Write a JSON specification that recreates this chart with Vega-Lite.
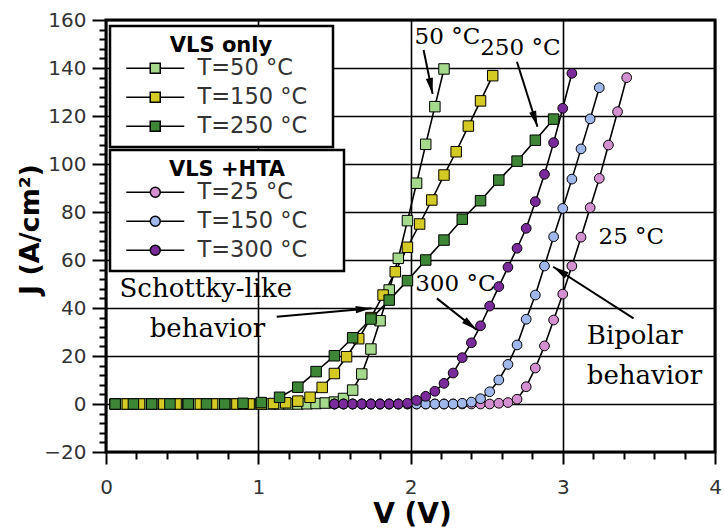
{
  "$schema": "https://vega.github.io/schema/vega-lite/v6.json",
  "width": 609,
  "height": 432,
  "autosize": "none",
  "padding": {"left": 106, "top": 20, "right": 9, "bottom": 77},
  "background": "white",
  "config": {
    "view": {"stroke": "black", "strokeWidth": 3},
    "font": "DejaVu Sans"
  },
  "datasets": {
    "vls": [
      {"s":"T=50 °C","V":0.06,"J":0},{"s":"T=50 °C","V":0.12,"J":0},{"s":"T=50 °C","V":0.18,"J":0},{"s":"T=50 °C","V":0.24,"J":0},{"s":"T=50 °C","V":0.30,"J":0},{"s":"T=50 °C","V":0.36,"J":0},{"s":"T=50 °C","V":0.42,"J":0},{"s":"T=50 °C","V":0.48,"J":0},{"s":"T=50 °C","V":0.54,"J":0},{"s":"T=50 °C","V":0.60,"J":0},{"s":"T=50 °C","V":0.66,"J":0},{"s":"T=50 °C","V":0.72,"J":0},{"s":"T=50 °C","V":0.78,"J":0},{"s":"T=50 °C","V":0.84,"J":0},{"s":"T=50 °C","V":0.90,"J":0},{"s":"T=50 °C","V":0.96,"J":0},{"s":"T=50 °C","V":1.02,"J":0},{"s":"T=50 °C","V":1.08,"J":0},{"s":"T=50 °C","V":1.14,"J":0},{"s":"T=50 °C","V":1.20,"J":0},{"s":"T=50 °C","V":1.26,"J":0},{"s":"T=50 °C","V":1.32,"J":0.1},{"s":"T=50 °C","V":1.38,"J":0.2},{"s":"T=50 °C","V":1.44,"J":0.4},{"s":"T=50 °C","V":1.50,"J":0.8},{"s":"T=50 °C","V":1.56,"J":2.3},{"s":"T=50 °C","V":1.62,"J":5.8},{"s":"T=50 °C","V":1.68,"J":12.5},{"s":"T=50 °C","V":1.74,"J":22.9},{"s":"T=50 °C","V":1.80,"J":34.7},{"s":"T=50 °C","V":1.86,"J":47.5},{"s":"T=50 °C","V":1.92,"J":60.7},{"s":"T=50 °C","V":1.98,"J":76.4},{"s":"T=50 °C","V":2.04,"J":92},{"s":"T=50 °C","V":2.10,"J":108.2},{"s":"T=50 °C","V":2.16,"J":123.9},{"s":"T=50 °C","V":2.22,"J":139.6},
      {"s":"T=150 °C","V":0.06,"J":0},{"s":"T=150 °C","V":0.14,"J":0},{"s":"T=150 °C","V":0.22,"J":0},{"s":"T=150 °C","V":0.30,"J":0},{"s":"T=150 °C","V":0.38,"J":0},{"s":"T=150 °C","V":0.46,"J":0},{"s":"T=150 °C","V":0.54,"J":0},{"s":"T=150 °C","V":0.62,"J":0},{"s":"T=150 °C","V":0.70,"J":0},{"s":"T=150 °C","V":0.78,"J":0},{"s":"T=150 °C","V":0.86,"J":0},{"s":"T=150 °C","V":0.94,"J":0},{"s":"T=150 °C","V":1.02,"J":0},{"s":"T=150 °C","V":1.10,"J":0.2},{"s":"T=150 °C","V":1.18,"J":0.5},{"s":"T=150 °C","V":1.26,"J":1.2},{"s":"T=150 °C","V":1.34,"J":2.8},{"s":"T=150 °C","V":1.42,"J":6.9},{"s":"T=150 °C","V":1.50,"J":12.7},{"s":"T=150 °C","V":1.58,"J":19.7},{"s":"T=150 °C","V":1.66,"J":27.2},{"s":"T=150 °C","V":1.74,"J":36},{"s":"T=150 °C","V":1.82,"J":45.4},{"s":"T=150 °C","V":1.90,"J":55.1},{"s":"T=150 °C","V":1.98,"J":65.3},{"s":"T=150 °C","V":2.06,"J":75},{"s":"T=150 °C","V":2.14,"J":85},{"s":"T=150 °C","V":2.22,"J":95.4},{"s":"T=150 °C","V":2.30,"J":105.1},{"s":"T=150 °C","V":2.38,"J":115.8},{"s":"T=150 °C","V":2.46,"J":126.3},{"s":"T=150 °C","V":2.54,"J":136.8},
      {"s":"T=250 °C","V":0.06,"J":0},{"s":"T=250 °C","V":0.18,"J":0},{"s":"T=250 °C","V":0.30,"J":0},{"s":"T=250 °C","V":0.42,"J":0},{"s":"T=250 °C","V":0.54,"J":0},{"s":"T=250 °C","V":0.66,"J":0},{"s":"T=250 °C","V":0.78,"J":0},{"s":"T=250 °C","V":0.90,"J":0.3},{"s":"T=250 °C","V":1.02,"J":0.6},{"s":"T=250 °C","V":1.14,"J":2.8},{"s":"T=250 °C","V":1.26,"J":7},{"s":"T=250 °C","V":1.38,"J":13.5},{"s":"T=250 °C","V":1.50,"J":20.1},{"s":"T=250 °C","V":1.62,"J":27.6},{"s":"T=250 °C","V":1.74,"J":35.4},{"s":"T=250 °C","V":1.86,"J":43.3},{"s":"T=250 °C","V":1.98,"J":51.4},{"s":"T=250 °C","V":2.10,"J":60},{"s":"T=250 °C","V":2.22,"J":68.3},{"s":"T=250 °C","V":2.34,"J":77},{"s":"T=250 °C","V":2.46,"J":84.7},{"s":"T=250 °C","V":2.58,"J":93.3},{"s":"T=250 °C","V":2.70,"J":101.2},{"s":"T=250 °C","V":2.82,"J":109.9},{"s":"T=250 °C","V":2.94,"J":118.7}
    ],
    "hta": [
      {"s":"T=25 °C","V":1.50,"J":0},{"s":"T=25 °C","V":1.56,"J":0},{"s":"T=25 °C","V":1.62,"J":0},{"s":"T=25 °C","V":1.68,"J":0},{"s":"T=25 °C","V":1.74,"J":0},{"s":"T=25 °C","V":1.80,"J":0},{"s":"T=25 °C","V":1.86,"J":0},{"s":"T=25 °C","V":1.92,"J":0},{"s":"T=25 °C","V":1.98,"J":0},{"s":"T=25 °C","V":2.04,"J":0},{"s":"T=25 °C","V":2.10,"J":0},{"s":"T=25 °C","V":2.16,"J":0},{"s":"T=25 °C","V":2.22,"J":0},{"s":"T=25 °C","V":2.28,"J":0},{"s":"T=25 °C","V":2.34,"J":0},{"s":"T=25 °C","V":2.40,"J":0},{"s":"T=25 °C","V":2.46,"J":0},{"s":"T=25 °C","V":2.52,"J":0},{"s":"T=25 °C","V":2.58,"J":0.3},{"s":"T=25 °C","V":2.64,"J":0.6},{"s":"T=25 °C","V":2.70,"J":2},{"s":"T=25 °C","V":2.76,"J":7.2},{"s":"T=25 °C","V":2.82,"J":15},{"s":"T=25 °C","V":2.88,"J":24.2},{"s":"T=25 °C","V":2.94,"J":35},{"s":"T=25 °C","V":3.00,"J":45.8},{"s":"T=25 °C","V":3.06,"J":57.5},{"s":"T=25 °C","V":3.12,"J":69.5},{"s":"T=25 °C","V":3.18,"J":81.8},{"s":"T=25 °C","V":3.24,"J":94},{"s":"T=25 °C","V":3.30,"J":107.9},{"s":"T=25 °C","V":3.36,"J":121.8},{"s":"T=25 °C","V":3.42,"J":136},
      {"s":"T=150 °C","V":1.50,"J":0},{"s":"T=150 °C","V":1.56,"J":0},{"s":"T=150 °C","V":1.62,"J":0},{"s":"T=150 °C","V":1.68,"J":0},{"s":"T=150 °C","V":1.74,"J":0},{"s":"T=150 °C","V":1.80,"J":0},{"s":"T=150 °C","V":1.86,"J":0},{"s":"T=150 °C","V":1.92,"J":0},{"s":"T=150 °C","V":1.98,"J":0},{"s":"T=150 °C","V":2.04,"J":0},{"s":"T=150 °C","V":2.10,"J":0},{"s":"T=150 °C","V":2.16,"J":0},{"s":"T=150 °C","V":2.22,"J":0},{"s":"T=150 °C","V":2.28,"J":0},{"s":"T=150 °C","V":2.34,"J":0.3},{"s":"T=150 °C","V":2.40,"J":0.8},{"s":"T=150 °C","V":2.46,"J":2.2},{"s":"T=150 °C","V":2.52,"J":5.1},{"s":"T=150 °C","V":2.58,"J":10},{"s":"T=150 °C","V":2.64,"J":16.5},{"s":"T=150 °C","V":2.70,"J":24.6},{"s":"T=150 °C","V":2.76,"J":35.3},{"s":"T=150 °C","V":2.82,"J":45.4},{"s":"T=150 °C","V":2.88,"J":57.5},{"s":"T=150 °C","V":2.94,"J":69.7},{"s":"T=150 °C","V":3.00,"J":81.5},{"s":"T=150 °C","V":3.06,"J":93.7},{"s":"T=150 °C","V":3.12,"J":106.3},{"s":"T=150 °C","V":3.18,"J":118.8},{"s":"T=150 °C","V":3.24,"J":131.8},
      {"s":"T=300 °C","V":1.50,"J":0},{"s":"T=300 °C","V":1.56,"J":0},{"s":"T=300 °C","V":1.62,"J":0},{"s":"T=300 °C","V":1.68,"J":0},{"s":"T=300 °C","V":1.74,"J":0},{"s":"T=300 °C","V":1.80,"J":0},{"s":"T=300 °C","V":1.86,"J":0},{"s":"T=300 °C","V":1.92,"J":0},{"s":"T=300 °C","V":1.98,"J":0.3},{"s":"T=300 °C","V":2.04,"J":1.5},{"s":"T=300 °C","V":2.10,"J":3.2},{"s":"T=300 °C","V":2.16,"J":5.3},{"s":"T=300 °C","V":2.22,"J":8.6},{"s":"T=300 °C","V":2.28,"J":12.9},{"s":"T=300 °C","V":2.34,"J":19.3},{"s":"T=300 °C","V":2.40,"J":25.5},{"s":"T=300 °C","V":2.46,"J":32.6},{"s":"T=300 °C","V":2.52,"J":40.8},{"s":"T=300 °C","V":2.58,"J":48.9},{"s":"T=300 °C","V":2.64,"J":57},{"s":"T=300 °C","V":2.70,"J":64.9},{"s":"T=300 °C","V":2.76,"J":73.2},{"s":"T=300 °C","V":2.82,"J":84.3},{"s":"T=300 °C","V":2.88,"J":95.7},{"s":"T=300 °C","V":2.94,"J":108.9},{"s":"T=300 °C","V":3.00,"J":123.2},{"s":"T=300 °C","V":3.06,"J":137.8}
    ],
    "arrows": [
      {"V1":2.086,"J1":147.5,"V2":2.145,"J2":129.2},
      {"V1":2.699,"J1":142.6,"V2":2.834,"J2":115.5},
      {"V1":2.173,"J1":44,"V2":2.436,"J2":30.8},
      {"V1":1.121,"J1":36.4,"V2":1.745,"J2":39.9},
      {"V1":3.465,"J1":35.7,"V2":2.937,"J2":57.2}
    ],
    "notes": [
      {"t":"50 °C","V":2.027,"J":152.9,"a":"left","k":"temp"},
      {"t":"250 °C","V":2.458,"J":148.3,"a":"left","k":"temp"},
      {"t":"300 °C","V":2.031,"J":50,"a":"left","k":"temp"},
      {"t":"25 °C","V":3.235,"J":69.6,"a":"left","k":"temp"},
      {"t":"Schottky-like","V":0.656,"J":47.9,"a":"center","k":"big"},
      {"t":"behavior","V":0.666,"J":31.2,"a":"center","k":"big"},
      {"t":"Bipolar","V":3.158,"J":28.3,"a":"left","k":"big"},
      {"t":"behavior","V":3.158,"J":11.7,"a":"left","k":"big"}
    ]
  },
  "layer": [
    {
      "data": {"name": "vls"},
      "mark": {"type": "line", "color": "black", "strokeWidth": 1.6},
      "encoding": {
        "x": {
          "field": "V", "type": "quantitative",
          "scale": {"domain": [0, 4], "nice": false, "zero": false},
          "axis": {
            "title": "V (V)",
            "values": [0,0.2,0.4,0.6,0.8,1,1.2,1.4,1.6,1.8,2,2.2,2.4,2.6,2.8,3,3.2,3.4,3.6,3.8,4],
            "tickCount": 200,
            "tickMinStep": 0.1,
            "labelExpr": "abs(datum.value-round(datum.value))<0.01 ? format(round(datum.value), 'd') : ''",
            "tickSize": {"condition": {"test": "abs(datum.value-round(datum.value))<0.01", "value": 12}, "value": 7},
            "gridOpacity": {"condition": {"test": "abs(datum.value-round(datum.value))<0.01", "value": 1}, "value": 0},
            "grid": true, "gridColor": "black", "gridWidth": 1.6,
            "domain": false, "tickColor": "black", "tickWidth": 2,
            "labelFont": "DejaVu Sans", "labelFontSize": 20, "labelColor": "#333", "labelPadding": 13,
            "labelOverlap": false, "labelFlush": false,
            "titleFont": "DejaVu Sans", "titleFontSize": 28, "titleFontWeight": "bold", "titleColor": "black",
            "titleX": 306, "titleY": 62, "titleBaseline": "middle", "titleAlign": "center"
          }
        },
        "y": {
          "field": "J", "type": "quantitative",
          "scale": {"domain": [-20, 160], "nice": false, "zero": false},
          "axis": {
            "title": "J (A/cm²)",
            "values": [-20,-16,-12,-8,-4,0,4,8,12,16,20,24,28,32,36,40,44,48,52,56,60,64,68,72,76,80,84,88,92,96,100,104,108,112,116,120,124,128,132,136,140,144,148,152,156,160],
            "tickCount": 200,
            "format": "d",
            "labelExpr": "datum.value % 20 === 0 ? datum.label : ''",
            "tickSize": {"condition": {"test": "datum.value % 20 === 0", "value": 14}, "value": 7},
            "gridOpacity": {"condition": {"test": "datum.value % 20 === 0", "value": 1}, "value": 0},
            "grid": true, "gridColor": "black", "gridWidth": 1.6,
            "domain": false, "tickColor": "black", "tickWidth": 2,
            "labelFont": "DejaVu Sans", "labelFontSize": 20, "labelColor": "#333", "labelPadding": 6,
            "labelOverlap": false, "labelFlush": false,
            "titleFont": "DejaVu Sans", "titleFontSize": 27, "titleFontWeight": "bold", "titleColor": "black",
            "titleX": -76, "titleY": 209, "titleAngle": -90, "titleBaseline": "middle", "titleAlign": "center"
          }
        },
        "detail": {"field": "s", "type": "nominal"}
      }
    },
    {
      "data": {"name": "vls"},
      "mark": {"type": "point", "shape": "square", "filled": true, "size": 110, "stroke": "black", "strokeWidth": 1, "opacity": 1},
      "encoding": {
        "x": {"field": "V", "type": "quantitative"},
        "y": {"field": "J", "type": "quantitative"},
        "fill": {
          "field": "s", "type": "nominal",
          "scale": {"domain": ["T=50 °C", "T=150 °C", "T=250 °C"], "range": ["#a5da8c", "#d5ca24", "#3c8636"]},
          "legend": {
            "title": "VLS only", "orient": "none", "legendX": 4, "legendY": 6,
            "symbolType": "M-0.4,0H2M3,0H5.4M2,-0.5H3V0.5H2Z",
            "symbolSize": 400, "symbolStrokeColor": "black", "symbolStrokeWidth": 1.5, "symbolOpacity": 1,
            "labelOffset": 56, "labelFont": "DejaVu Sans", "labelFontSize": 22.5, "labelColor": "#333",
            "labelExpr": "datum.label + '\u2800'",
            "titleFont": "DejaVu Sans", "titleFontSize": 21, "titleFontWeight": "bold", "titleColor": "black",
            "titleAnchor": "middle", "titlePadding": 1,
            "padding": 9, "rowPadding": 6, "strokeColor": "black", "fillColor": "white",
            "encode": {"legend": {"update": {"strokeWidth": {"value": 2.5}}}}
          }
        }
      }
    },
    {
      "data": {"name": "hta"},
      "mark": {"type": "line", "color": "black", "strokeWidth": 1.6},
      "encoding": {
        "x": {"field": "V", "type": "quantitative"},
        "y": {"field": "J", "type": "quantitative"},
        "detail": {"field": "s", "type": "nominal"}
      }
    },
    {
      "data": {"name": "hta"},
      "mark": {"type": "point", "shape": "circle", "filled": true, "size": 95, "stroke": "black", "strokeWidth": 1, "opacity": 1},
      "encoding": {
        "x": {"field": "V", "type": "quantitative"},
        "y": {"field": "J", "type": "quantitative"},
        "fill": {
          "field": "s", "type": "nominal",
          "scale": {"domain": ["T=25 °C", "T=150 °C", "T=300 °C"], "range": ["#d48fd0", "#9fb7ea", "#7b2a9c"]},
          "legend": {
            "title": "VLS +HTA", "orient": "none", "legendX": 4, "legendY": 130,
            "symbolType": "M-0.4,0H2M3,0H5.4M3,0A0.5,0.5,0,1,1,2,0A0.5,0.5,0,1,1,3,0Z",
            "symbolSize": 400, "symbolStrokeColor": "black", "symbolStrokeWidth": 1.5, "symbolOpacity": 1,
            "labelOffset": 56, "labelFont": "DejaVu Sans", "labelFontSize": 22.5, "labelColor": "#333",
            "labelExpr": "datum.label + '\u2002\u2800'",
            "titleFont": "DejaVu Sans", "titleFontSize": 21, "titleFontWeight": "bold", "titleColor": "black",
            "titleAnchor": "middle", "titlePadding": 1,
            "padding": 9, "rowPadding": 6, "strokeColor": "black", "fillColor": "white",
            "encode": {"legend": {"update": {"strokeWidth": {"value": 2.5}}}}
          }
        }
      }
    },
    {
      "data": {"name": "arrows"},
      "mark": {"type": "rule", "color": "black", "strokeWidth": 2},
      "encoding": {
        "x": {"field": "V1", "type": "quantitative"},
        "y": {"field": "J1", "type": "quantitative"},
        "x2": {"field": "V2"},
        "y2": {"field": "J2"}
      }
    },
    {
      "data": {"name": "arrows"},
      "transform": [
        {"calculate": "atan2((datum.V2-datum.V1)*152.3, (datum.J2-datum.J1)*2.4)*180/PI", "as": "ang"}
      ],
      "mark": {"type": "point", "shape": "M0,0L0.45,2L-0.45,2Z", "filled": true, "size": 256, "color": "black", "opacity": 1},
      "encoding": {
        "x": {"field": "V2", "type": "quantitative"},
        "y": {"field": "J2", "type": "quantitative"},
        "angle": {"field": "ang", "type": "quantitative", "scale": null}
      }
    },
    {
      "data": {"name": "notes"},
      "transform": [{"filter": "datum.a === 'left'"}],
      "mark": {"type": "text", "font": "DejaVu Serif", "baseline": "middle", "align": "left", "color": "black"},
      "encoding": {
        "x": {"field": "V", "type": "quantitative"},
        "y": {"field": "J", "type": "quantitative"},
        "text": {"field": "t"},
        "size": {"field": "k", "type": "nominal", "scale": {"domain": ["temp", "big"], "range": [23, 26]}, "legend": null}
      }
    },
    {
      "data": {"name": "notes"},
      "transform": [{"filter": "datum.a === 'center'"}],
      "mark": {"type": "text", "font": "DejaVu Serif", "baseline": "middle", "align": "center", "color": "black"},
      "encoding": {
        "x": {"field": "V", "type": "quantitative"},
        "y": {"field": "J", "type": "quantitative"},
        "text": {"field": "t"},
        "size": {"field": "k", "type": "nominal", "scale": {"domain": ["temp", "big"], "range": [23, 26]}, "legend": null}
      }
    }
  ],
  "resolve": {"scale": {"fill": "independent"}}
}
